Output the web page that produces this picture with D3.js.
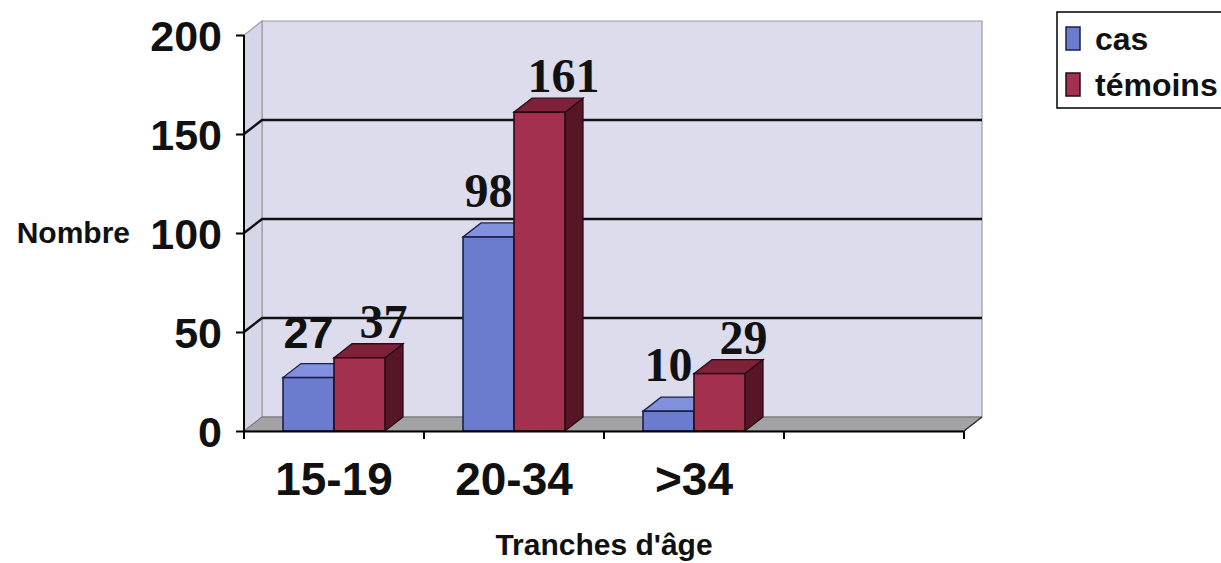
<!DOCTYPE html>
<html>
<head>
<meta charset="utf-8">
<script src="https://cdn.jsdelivr.net/npm/d3@7"></script>
<style>
  html, body { margin: 0; padding: 0; background: #ffffff; }
  svg { display: block; }
</style>
</head>
<body>
<svg id="chart" width="1221" height="563"></svg>
<script>
// ---- data ----
const categories = ["15-19", "20-34", ">34", ""];
const seriesNames = ["cas", "témoins"];
const casValues = [27, 98, 10];
const temoinsValues = [37, 161, 29];
const yTicks = [0, 50, 100, 150, 200];
const yAxisTitle = "Nombre";
const xAxisTitle = "Tranches d'âge";

// ---- styles ----
const SANS = "'Liberation Sans', Arial, sans-serif";
const SERIF = "'Liberation Serif', 'Times New Roman', serif";
const colors = {
  cas:     { front: "#6b7ccf", top: "#8291de", side: "#2c3577", edge: "#1b1f4a" },
  "témoins": { front: "#a3304f", top: "#7e2239", side: "#561626", edge: "#2a0a14" }
};
const wallFill = "#dcdced";
const floorFill = "#a3a3a6";
const DX = 18, DY = -14;

const svg = d3.select("#chart");

const x = d3.scaleBand().domain(categories).range([244, 964]).padding(0);
const xs = d3.scaleBand().domain(seriesNames).range([0, x.bandwidth()])
  .paddingInner(0).paddingOuter(0.765);
const y = d3.scaleLinear().domain([0, 200]).range([431, 35]);

const x0 = x.range()[0], x1 = x.range()[1];
const yb = y(0), yt = y(200);

// ---- walls ----
const g = svg.append("g");
g.append("polygon")
  .attr("points", [[x0 + DX, yt + DY], [x1 + DX, yt + DY], [x1 + DX, yb + DY], [x0 + DX, yb + DY]].join(" "))
  .attr("fill", wallFill).attr("stroke", "#9a9aa6").attr("stroke-width", 1.2);
g.append("polygon")
  .attr("points", [[x0, yb], [x0, yt], [x0 + DX, yt + DY], [x0 + DX, yb + DY]].join(" "))
  .attr("fill", "#d6d6e8").attr("stroke", "#9a9aa6").attr("stroke-width", 1.2);
g.append("polygon")
  .attr("points", [[x0, yb], [x1, yb], [x1 + DX, yb + DY], [x0 + DX, yb + DY]].join(" "))
  .attr("fill", floorFill).attr("stroke", "#6e6e72").attr("stroke-width", 1);

const grid = yTicks.filter(v => v > 0 && v < 200);
g.selectAll(".grid").data(grid).enter().append("path")
  .attr("d", v => `M${x0},${y(v)} L${x0 + DX},${y(v) + DY} L${x1 + DX},${y(v) + DY}`)
  .attr("fill", "none").attr("stroke", "#111").attr("stroke-width", 2.4);

// ---- bars ----
const rows = [];
categories.forEach((c, i) => {
  if (i < casValues.length) {
    rows.push({ cat: c, s: "cas", v: casValues[i] });
    rows.push({ cat: c, s: "témoins", v: temoinsValues[i] });
  }
});

const bars = svg.append("g").selectAll("g.bar").data(rows).enter().append("g");
bars.each(function (d) {
  const gb = d3.select(this);
  const L = x(d.cat) + xs(d.s);
  const R = L + xs.bandwidth();
  const T = y(d.v), B = y(0);
  const col = colors[d.s];
  gb.append("polygon")
    .attr("points", [[R, B], [R, T], [R + DX, T + DY], [R + DX, B + DY]].join(" "))
    .attr("fill", col.side).attr("stroke", col.edge).attr("stroke-width", 1.3);
  gb.append("polygon")
    .attr("points", [[L, T], [R, T], [R + DX, T + DY], [L + DX, T + DY]].join(" "))
    .attr("fill", col.top).attr("stroke", col.edge).attr("stroke-width", 1.3);
  gb.append("rect")
    .attr("x", L).attr("y", T).attr("width", R - L).attr("height", B - T)
    .attr("fill", col.front).attr("stroke", col.edge).attr("stroke-width", 1.6);
});

// ---- axes ----
const yAxis = d3.axisLeft(y).tickValues(yTicks).tickSize(8).tickPadding(14).tickFormat(d3.format("d"));
const ya = svg.append("g").attr("transform", `translate(${x0},0)`).call(yAxis);
ya.select(".domain").attr("stroke", "#000").attr("stroke-width", 2)
  .attr("d", `M0,${yt}V${yb + 7}`);
ya.selectAll(".tick line").attr("stroke", "#000").attr("stroke-width", 2);
ya.selectAll(".tick text")
  .attr("font-family", SANS).attr("font-weight", "bold").attr("font-size", 43)
  .attr("fill", "#111").attr("dy", "0.36em");

const xAxis = d3.axisBottom(x).tickSize(0).tickPadding(0);
const xa = svg.append("g").attr("transform", `translate(0,${yb})`).call(xAxis);
xa.select(".domain").attr("stroke", "#000").attr("stroke-width", 2);
xa.selectAll(".tick text")
  .attr("font-family", SANS).attr("font-weight", "bold").attr("font-size", 46)
  .attr("fill", "#111").attr("y", 64).attr("dy", 0);
const bounds = categories.map(c => x(c)).concat([x1]);
xa.selectAll(".bt").data(bounds).enter().append("line")
  .attr("x1", d => d).attr("x2", d => d).attr("y1", 0).attr("y2", 8)
  .attr("stroke", "#000").attr("stroke-width", 2);
svg.append("line").attr("x1", x1).attr("y1", yb).attr("x2", x1 + DX).attr("y2", yb + DY)
  .attr("stroke", "#333").attr("stroke-width", 1.5);

// ---- value labels ----
svg.append("g").selectAll("text").data(rows).enter().append("text")
  .attr("x", d => {
    const L = x(d.cat) + xs(d.s);
    return d.s === "cas" ? L + xs.bandwidth() / 2 : L + xs.bandwidth() / 2 + DX + 6;
  })
  .attr("y", d => y(d.v) + DY - (d.s === "cas" ? 16 : 6))
  .attr("text-anchor", "middle")
  .attr("font-family", d => (d.s === "cas" && d.cat === categories[0]) ? SANS : SERIF)
  .attr("font-weight", "bold")
  .attr("font-size", d => (d.s === "cas" && d.cat === categories[0]) ? 45 : 48)
  .attr("fill", "#111")
  .text(d => d.v);

// ---- axis titles ----
svg.append("text").attr("x", 130).attr("y", 243).attr("text-anchor", "end")
  .attr("font-family", SANS).attr("font-weight", "bold").attr("font-size", 30)
  .attr("fill", "#111").text(yAxisTitle);
svg.append("text").attr("x", (x0 + x1) / 2).attr("y", 555).attr("text-anchor", "middle")
  .attr("font-family", SANS).attr("font-weight", "bold").attr("font-size", 30)
  .attr("fill", "#111").text(xAxisTitle);

// ---- legend ----
const lg = svg.append("g");
lg.append("rect").attr("x", 1057).attr("y", 12).attr("width", 200).attr("height", 96)
  .attr("fill", "#fff").attr("stroke", "#000").attr("stroke-width", 1.5);
const li = lg.selectAll("g.li").data(seriesNames).enter().append("g")
  .attr("transform", (d, i) => `translate(1066,${27 + i * 46})`);
li.append("rect").attr("width", 14).attr("height", 23)
  .attr("fill", d => colors[d].front).attr("stroke", d => colors[d].edge).attr("stroke-width", 1.5);
li.append("text").attr("x", 29).attr("y", 23)
  .attr("font-family", SANS).attr("font-weight", "bold").attr("font-size", 32)
  .attr("fill", "#111").text(d => d);
</script>
</body>
</html>
